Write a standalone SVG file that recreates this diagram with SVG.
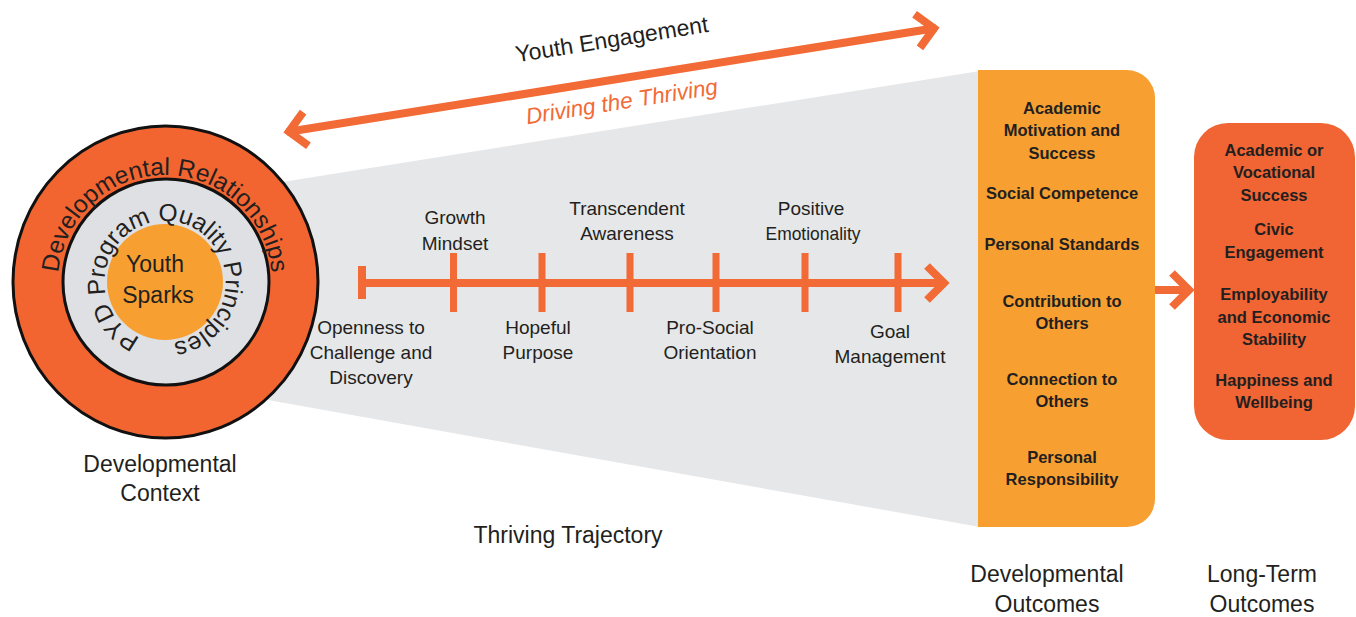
<svg xmlns="http://www.w3.org/2000/svg" width="1356" height="617" viewBox="0 0 1356 617">
  <style>
    .t { font-family: "Liberation Sans", Arial, sans-serif; fill: #231f20; }
    .lbl { font-size: 23px; text-anchor: middle; }
    .tl { font-size: 19px; text-anchor: middle; }
    .bx { font-size: 16.5px; font-weight: bold; text-anchor: middle; }
    .ln { stroke: #f26a35; fill: none; }
  </style>
  <defs>
    <marker id="chev" viewBox="-30 -25 40 50" refX="0" refY="0" markerWidth="40" markerHeight="50" markerUnits="userSpaceOnUse" orient="auto-start-reverse">
      <path d="M-19,-17 L-2,0 L-19,17" fill="none" stroke="#f26a35" stroke-width="8" stroke-linejoin="miter" stroke-miterlimit="4"/>
    </marker>
    <path id="arcOuter" d="M 58.4,291.3 A 107 107 0 1 1 271.6,291.3"/>
    <path id="arcInner" d="M 151.3,341.4 A 61 61 0 0 1 173.5,221.6 A 61 61 0 0 1 161.8,342.9"/>
  </defs>

  <rect width="1356" height="617" fill="#ffffff"/>

  <g id="trajectory-band">
    <polygon points="200,195 980,71 980,527 200,388" fill="#e6e7e9"/>
  </g>

  <g id="developmental-context">
    <ellipse cx="165.5" cy="282" rx="152.5" ry="156" fill="#f26531" stroke="#111" stroke-width="3"/>
    <circle cx="166" cy="282" r="103" fill="#dfe0e3" stroke="#111" stroke-width="3"/>
    <circle cx="165" cy="282" r="58" fill="#f7a031"/>
    <text class="t" font-size="24.5"><textPath href="#arcOuter" startOffset="50%" text-anchor="middle">Developmental Relationships</textPath></text>
    <text class="t" font-size="24.5"><textPath href="#arcInner" startOffset="50%" text-anchor="middle">PYD Program Quality Principles</textPath></text>
    <text class="t" font-size="23" text-anchor="middle" x="155" y="272">Youth</text>
    <text class="t" font-size="23" text-anchor="middle" x="158" y="303">Sparks</text>
    <text class="t lbl" x="160" y="472">Developmental</text>
    <text class="t lbl" x="160" y="501">Context</text>
  </g>

  <g id="connectors">
    <line class="ln" x1="287" y1="132" x2="936" y2="28" stroke-width="8" marker-start="url(#chev)" marker-end="url(#chev)"/>
    <line class="ln" x1="362" y1="283" x2="946" y2="283" stroke-width="8" marker-end="url(#chev)"/>
    <rect x="358" y="266" width="8" height="33" fill="#f26a35"/>
    <rect x="450" y="253" width="7" height="59" fill="#f26a35"/>
    <rect x="538.5" y="253" width="7" height="59" fill="#f26a35"/>
    <rect x="626.5" y="253" width="7" height="59" fill="#f26a35"/>
    <rect x="712.5" y="253" width="7" height="59" fill="#f26a35"/>
    <rect x="801.5" y="253" width="7" height="59" fill="#f26a35"/>
    <rect x="894.5" y="253" width="7" height="59" fill="#f26a35"/>
    <line class="ln" x1="1155" y1="290" x2="1191" y2="290" stroke-width="8" marker-end="url(#chev)"/>
  </g>

  <g id="youth-engagement">
    <text class="t" font-size="23" text-anchor="middle" transform="translate(613,47) rotate(-9)">Youth Engagement</text>
    <text class="t" font-size="22.5" font-style="italic" text-anchor="middle" style="fill:#f26a35" transform="translate(623,109) rotate(-9)">Driving the Thriving</text>
  </g>

  <g id="thriving-trajectory">
    <text class="t tl" x="455" y="224">Growth</text>
    <text class="t tl" x="455" y="250">Mindset</text>
    <text class="t tl" x="627" y="215">Transcendent</text>
    <text class="t tl" x="627" y="240">Awareness</text>
    <text class="t tl" x="811" y="215">Positive</text>
    <text class="t tl" x="813" y="240" textLength="95" lengthAdjust="spacingAndGlyphs">Emotionality</text>
    <text class="t tl" x="371" y="334">Openness to</text>
    <text class="t tl" x="371" y="359">Challenge and</text>
    <text class="t tl" x="371" y="384">Discovery</text>
    <text class="t tl" x="538" y="334">Hopeful</text>
    <text class="t tl" x="538" y="359">Purpose</text>
    <text class="t tl" x="710" y="334">Pro-Social</text>
    <text class="t tl" x="710" y="359">Orientation</text>
    <text class="t tl" x="890" y="338">Goal</text>
    <text class="t tl" x="890" y="363">Management</text>
    <text class="t lbl" x="568" y="543">Thriving Trajectory</text>
  </g>

  <g id="developmental-outcomes">
    <path d="M978,70 H1127 A28,28 0 0 1 1155,98 V499 A28,28 0 0 1 1127,527 H978 Z" fill="#f7a031"/>
    <text class="t bx" x="1062" y="114">Academic</text>
    <text class="t bx" x="1062" y="136">Motivation and</text>
    <text class="t bx" x="1062" y="159">Success</text>
    <text class="t bx" x="1062" y="199">Social Competence</text>
    <text class="t bx" x="1062" y="250">Personal Standards</text>
    <text class="t bx" x="1062" y="307">Contribution to</text>
    <text class="t bx" x="1062" y="329">Others</text>
    <text class="t bx" x="1062" y="385">Connection to</text>
    <text class="t bx" x="1062" y="407">Others</text>
    <text class="t bx" x="1062" y="463">Personal</text>
    <text class="t bx" x="1062" y="485">Responsibility</text>
    <text class="t lbl" x="1047" y="582">Developmental</text>
    <text class="t lbl" x="1047" y="612">Outcomes</text>
  </g>

  <g id="long-term-outcomes">
    <rect x="1194" y="123" width="161" height="317" rx="34" fill="#f16433"/>
    <text class="t bx" x="1274" y="156">Academic or</text>
    <text class="t bx" x="1274" y="178">Vocational</text>
    <text class="t bx" x="1274" y="201">Success</text>
    <text class="t bx" x="1274" y="235">Civic</text>
    <text class="t bx" x="1274" y="258">Engagement</text>
    <text class="t bx" x="1274" y="300">Employability</text>
    <text class="t bx" x="1274" y="323">and Economic</text>
    <text class="t bx" x="1274" y="345">Stability</text>
    <text class="t bx" x="1274" y="386">Happiness and</text>
    <text class="t bx" x="1274" y="408">Wellbeing</text>
    <text class="t lbl" x="1262" y="582">Long-Term</text>
    <text class="t lbl" x="1262" y="612">Outcomes</text>
  </g>
</svg>
